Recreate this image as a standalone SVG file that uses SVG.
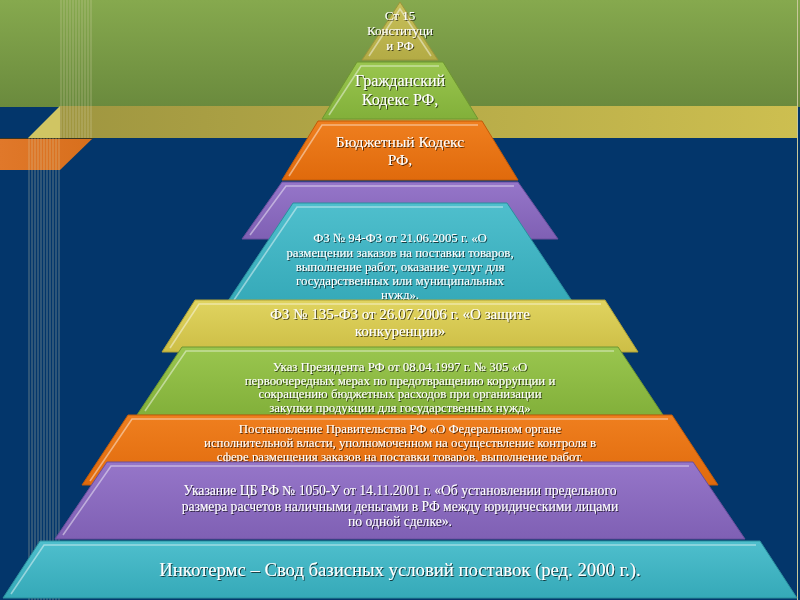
<svg xmlns="http://www.w3.org/2000/svg" width="800" height="600" viewBox="0 0 800 600">
<defs>
  <linearGradient id="gTop" x1="0" y1="0" x2="0" y2="1">
    <stop offset="0" stop-color="#86a94e"/>
    <stop offset="1" stop-color="#6a8a3d"/>
  </linearGradient>
  <linearGradient id="gBand" x1="0" y1="0" x2="1" y2="0">
    <stop offset="0" stop-color="#9f9640"/>
    <stop offset="1" stop-color="#cdbf50"/>
  </linearGradient>
  <linearGradient id="gOrBand" x1="0" y1="0" x2="1" y2="0">
    <stop offset="0" stop-color="#e0782a"/>
    <stop offset="1" stop-color="#d86f1c"/>
  </linearGradient>
  <linearGradient id="gOlive" x1="0" y1="0" x2="0" y2="1">
    <stop offset="0" stop-color="#c8c05a"/>
    <stop offset="1" stop-color="#b3ab45"/>
  </linearGradient>
  <linearGradient id="gGreen" x1="0" y1="0" x2="0" y2="1">
    <stop offset="0" stop-color="#9ac64f"/>
    <stop offset="1" stop-color="#82b03a"/>
  </linearGradient>
  <linearGradient id="gOrange" x1="0" y1="0" x2="0" y2="1">
    <stop offset="0" stop-color="#ef7f1f"/>
    <stop offset="1" stop-color="#e06a0c"/>
  </linearGradient>
  <linearGradient id="gPurple" x1="0" y1="0" x2="0" y2="1">
    <stop offset="0" stop-color="#9676c9"/>
    <stop offset="1" stop-color="#7f60b4"/>
  </linearGradient>
  <linearGradient id="gTeal" x1="0" y1="0" x2="0" y2="1">
    <stop offset="0" stop-color="#4fbfcd"/>
    <stop offset="1" stop-color="#35a9b8"/>
  </linearGradient>
  <linearGradient id="gYellow" x1="0" y1="0" x2="0" y2="1">
    <stop offset="0" stop-color="#e0d460"/>
    <stop offset="1" stop-color="#cdbe46"/>
  </linearGradient>
  <filter id="sh" x="-10%" y="-30%" width="120%" height="160%">
    <feDropShadow dx="1" dy="1" stdDeviation="0.7" flood-color="#000" flood-opacity="0.65"/>
  </filter>
  <style>
    .t { font-family: "Liberation Serif", "DejaVu Serif", serif; fill: #ffffff; text-anchor: middle; filter: url(#sh); }
    .edge { stroke-width: 1; stroke-linejoin: round; }
    .hl { fill: none; stroke: #ffffff; stroke-opacity: 0.45; stroke-width: 1.6; }
    .vl { stroke: #d8d6b0; stroke-opacity: 0.6; stroke-width: 0.7; }
  </style>
</defs>

<!-- background -->
<rect x="0" y="0" width="800" height="600" fill="#03366b"/>
<rect x="0" y="0" width="800" height="107" fill="url(#gTop)"/>
<rect x="60" y="106" width="738" height="32" fill="url(#gBand)"/>
<polygon points="28,138 60,106 60,138" fill="#d0c563"/>
<polygon points="0,138 93,138 60,170 0,170" fill="url(#gOrBand)"/>
<line x1="0" y1="138.5" x2="93" y2="138.5" stroke="#3a3520" stroke-width="1"/>
<line x1="797.5" y1="0" x2="797.5" y2="600" stroke="#c8c89a" stroke-width="1"/>
<g id="lines-top">
  <line class="vl" x1="61" y1="0" x2="61" y2="138"/>
  <line class="vl" x1="64" y1="0" x2="64" y2="138"/>
  <line class="vl" x1="67" y1="0" x2="67" y2="138"/>
  <line class="vl" x1="70" y1="0" x2="70" y2="138"/>
  <line class="vl" x1="73" y1="0" x2="73" y2="138"/>
  <line class="vl" x1="76" y1="0" x2="76" y2="138"/>
  <line class="vl" x1="79" y1="0" x2="79" y2="138"/>
  <line class="vl" x1="82" y1="0" x2="82" y2="138"/>
  <line class="vl" x1="85" y1="0" x2="85" y2="138"/>
  <line class="vl" x1="88" y1="0" x2="88" y2="138"/>
  <line class="vl" x1="91" y1="0" x2="91" y2="138"/>
</g>
<g id="lines-bottom">
  <line class="vl" x1="29" y1="138" x2="29" y2="600"/>
  <line class="vl" x1="32" y1="138" x2="32" y2="600"/>
  <line class="vl" x1="35" y1="138" x2="35" y2="600"/>
  <line class="vl" x1="38" y1="138" x2="38" y2="600"/>
  <line class="vl" x1="41" y1="138" x2="41" y2="600"/>
  <line class="vl" x1="44" y1="138" x2="44" y2="600"/>
  <line class="vl" x1="47" y1="138" x2="47" y2="600"/>
  <line class="vl" x1="50" y1="138" x2="50" y2="600"/>
  <line class="vl" x1="53" y1="138" x2="53" y2="600"/>
  <line class="vl" x1="56" y1="138" x2="56" y2="600"/>
  <line class="vl" x1="59" y1="138" x2="59" y2="600"/>
</g>

<!-- tier 1 -->
<g id="tier1">
  <polygon class="edge" points="400,2 362,60 438,60" fill="url(#gOlive)" stroke="#9c953a"/>
  <polyline class="hl" points="369,56 400,9 431,56"/>
  <text class="t" x="400" y="20" font-size="13">Ст 15</text>
  <text class="t" x="400" y="35" font-size="13">Конституци</text>
  <text class="t" x="400" y="50" font-size="13">и РФ</text>
</g>

<!-- tier 2 -->
<g id="tier2">
  <polygon class="edge" points="357,62 443,62 478,119 322,119" fill="url(#gGreen)" stroke="#6e9630"/>
  <polyline class="hl" points="329,115 361,66 439,66"/>
  <text class="t" x="400" y="86" font-size="16">Гражданский</text>
  <text class="t" x="400" y="104.5" font-size="16">Кодекс РФ,</text>
</g>

<!-- tier 3 -->
<g id="tier3">
  <polygon class="edge" points="318,121 482,121 518,180 282,180" fill="url(#gOrange)" stroke="#c25a08"/>
  <polyline class="hl" points="289,176 322,125 478,125"/>
  <text class="t" x="400" y="147" font-size="15.5">Бюджетный Кодекс</text>
  <text class="t" x="400" y="165" font-size="15.5">РФ,</text>
</g>

<!-- tier 4 -->
<g id="tier4">
  <polygon class="edge" points="282,182 518,182 558,239 242,239" fill="url(#gPurple)" stroke="#6a4e9c"/>
  <polyline class="hl" points="250,235 286,186 514,186"/>
</g>

<!-- tier 5 -->
<g id="tier5">
  <polygon class="edge" points="293,203 507,203 574,304 226,304" fill="url(#gTeal)" stroke="#2a8f9d"/>
  <polyline class="hl" points="234,300 297,207 503,207"/>
  <text class="t" x="400" y="242" font-size="12.8">ФЗ № 94-ФЗ от 21.06.2005 г. «О</text>
  <text class="t" x="400" y="257" font-size="12.8">размещении заказов на поставки товаров,</text>
  <text class="t" x="400" y="270.5" font-size="12.8">выполнение работ, оказание услуг для</text>
  <text class="t" x="400" y="284.5" font-size="12.8">государственных или муниципальных</text>
  <text class="t" x="400" y="299" font-size="12.8">нужд».</text>
</g>

<!-- tier 6 -->
<g id="tier6">
  <polygon class="edge" points="195,300 605,300 638,352 162,352" fill="url(#gYellow)" stroke="#b0a236"/>
  <polyline class="hl" points="170,348 199,304 601,304"/>
  <text class="t" x="400" y="318.5" font-size="15">ФЗ № 135-ФЗ от 26.07.2006 г. «О защите</text>
  <text class="t" x="400" y="335.5" font-size="15">конкуренции»</text>
</g>

<!-- tier 7 -->
<g id="tier7">
  <polygon class="edge" points="182,347 618,347 663,415 137,415" fill="url(#gGreen)" stroke="#6e9630"/>
  <polyline class="hl" points="145,411 186,351 614,351"/>
  <text class="t" x="400" y="371" font-size="12.8">Указ Президента РФ от 08.04.1997 г. № 305 «О</text>
  <text class="t" x="400" y="384.5" font-size="12.8">первоочередных мерах по предотвращению коррупции и</text>
  <text class="t" x="400" y="398" font-size="12.8">сокращению бюджетных расходов при организации</text>
  <text class="t" x="400" y="411.5" font-size="12.8">закупки продукции для государственных нужд»</text>
</g>

<!-- tier 8 -->
<g id="tier8">
  <polygon class="edge" points="128,415 672,415 718,485 82,485" fill="url(#gOrange)" stroke="#c25a08"/>
  <polyline class="hl" points="90,481 132,419 668,419"/>
  <text class="t" x="400" y="433" font-size="12.8">Постановление Правительства РФ «О Федеральном органе</text>
  <text class="t" x="400" y="447" font-size="12.8">исполнительной власти, уполномоченном на осуществление контроля в</text>
  <text class="t" x="400" y="461" font-size="12.8">сфере размещения заказов на поставки товаров, выполнение работ,</text>
</g>

<!-- tier 9 -->
<g id="tier9">
  <polygon class="edge" points="107,462 693,462 745,539 55,539" fill="url(#gPurple)" stroke="#6a4e9c"/>
  <polyline class="hl" points="63,535 111,466 689,466"/>
  <text class="t" x="400" y="494.5" font-size="13.6">Указание ЦБ РФ № 1050-У от 14.11.2001 г. «Об установлении предельного</text>
  <text class="t" x="400" y="510.5" font-size="13.6">размера расчетов наличными деньгами в РФ между юридическими лицами</text>
  <text class="t" x="400" y="526" font-size="13.6">по одной сделке».</text>
</g>

<!-- tier 10 -->
<g id="tier10">
  <polygon class="edge" points="40,541 760,541 797,598 3,598" fill="url(#gTeal)" stroke="#2a8f9d"/>
  <polyline class="hl" points="11,594 44,545 756,545"/>
  <text class="t" x="400" y="576" font-size="18.7">Инкотермс – Свод базисных условий поставок (ред. 2000 г.).</text>
</g>
</svg>
